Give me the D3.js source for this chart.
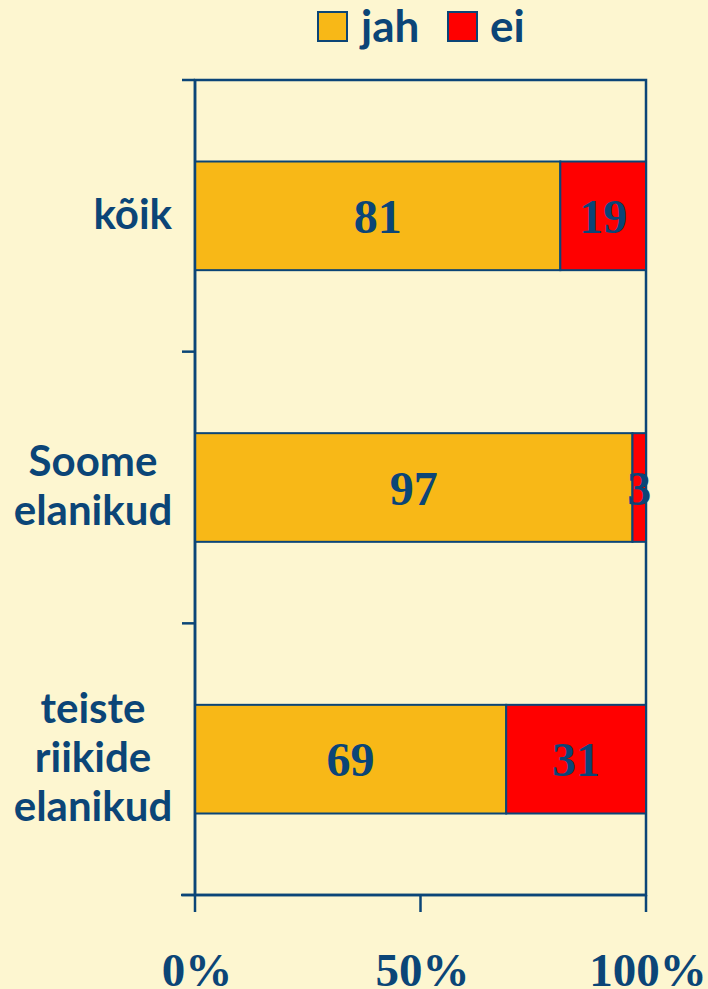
<html>
<meta http-equiv="content-type" content="text/html; charset=UTF8">
<style>
  body {margin:0; background:#fdf6d0;}
  svg {display:block;}
</style>
<body>
<svg id="svg1" width="708" height="989"></svg>
<script src="https://cdn.jsdelivr.net/npm/d3@7"></script>
<script>
var categories=["kõik","Soome elanikud","teiste riikide elanikud"];
var catLines=[["kõik"],["Soome","elanikud"],["teiste","riikide","elanikud"]];
var jah=[81,97,69];
var ei=[19,3,31];
var seriesNames=["jah","ei"];
var seriesColors=["#f8b817","#ff0000"];
var xTicks=[0,50,100];

var blue="#0b4577";
var svg=d3.select("#svg1");

var x=d3.scaleLinear().domain([0,100]).range([195,646]);
var y=d3.scaleBand().domain(categories).range([80,895]).paddingInner(0.6).paddingOuter(0.3);

var rows=categories.map(function(c,i){return {cat:c,jah:jah[i],ei:ei[i]}});
var stack=d3.stack().keys(seriesNames)(rows);

// plot frame
svg.append("rect").attr("x",x(0)).attr("y",80).attr("width",x(100)-x(0)).attr("height",815)
  .attr("fill","none").attr("stroke",blue).attr("stroke-width",2.5);

var layer=svg.selectAll("g.layer").data(stack).enter().append("g")
  .attr("class","layer")
  .attr("fill",function(d,i){return seriesColors[i]});

layer.selectAll("rect").data(function(d){return d}).enter().append("rect")
  .attr("x",function(d){return x(d[0])})
  .attr("y",function(d){return y(d.data.cat)})
  .attr("width",function(d){return x(d[1])-x(d[0])})
  .attr("height",y.bandwidth())
  .attr("stroke",blue)
  .attr("stroke-width",2);

layer.selectAll("text").data(function(d){return d}).enter().append("text")
  .attr("x",function(d){return (x(d[0])+x(d[1]))/2})
  .attr("y",function(d){return y(d.data.cat)+y.bandwidth()/2+17})
  .attr("text-anchor","middle")
  .attr("fill",blue)
  .style("font-family","'Liberation Serif',serif")
  .style("font-weight","bold")
  .style("font-size","48px")
  .text(function(d){return d[1]-d[0]});

// y axis
var yAxisG=svg.append("g");
yAxisG.append("line").attr("x1",195).attr("x2",195).attr("y1",80).attr("y2",895)
  .attr("stroke",blue).attr("stroke-width",2.5);
var yTicks=[80].concat(categories.map(function(c){return y(c)+y.bandwidth()+(y.step()-y.bandwidth())/2}));
yAxisG.selectAll("line.tick").data(yTicks).enter().append("line")
  .attr("class","tick")
  .attr("x1",182).attr("x2",195)
  .attr("y1",function(d){return d}).attr("y2",function(d){return d})
  .attr("stroke",blue).attr("stroke-width",2.5);

// x axis
var xAxisG=svg.append("g").attr("transform","translate(0,895)");
xAxisG.append("line").attr("x1",181).attr("x2",646).attr("stroke",blue).attr("stroke-width",2.5);
xAxisG.selectAll("line.tick").data(xTicks).enter().append("line")
  .attr("class","tick")
  .attr("x1",function(d){return x(d)}).attr("x2",function(d){return x(d)})
  .attr("y1",0).attr("y2",17)
  .attr("stroke",blue).attr("stroke-width",2.5);
xAxisG.selectAll("text").data(xTicks).enter().append("text")
  .attr("x",function(d){return x(d)+2}).attr("y",91)
  .attr("text-anchor","middle")
  .attr("fill",blue)
  .style("font-family","'Liberation Serif',serif")
  .style("font-weight","bold")
  .style("font-size","47px")
  .text(function(d){return d+"%"});

// category labels
var labG=svg.append("g");
categories.forEach(function(c,i){
  var lines=catLines[i];
  var cy=y(c)+y.bandwidth()/2;
  var lh=49;
  var t=labG.append("text")
    .attr("fill",blue)
    .attr("text-anchor",lines.length==1?"end":"middle")
    .style("font-family","Lato,'Open Sans',sans-serif")
    .style("font-weight","bold")
    .style("font-size","42px");
  lines.forEach(function(l,j){
    t.append("tspan")
      .attr("x",lines.length==1?172:93)
      .attr("y",cy+13+(j-(lines.length-1)/2)*lh)
      .text(l);
  });
});

// legend
var leg=svg.append("g");
var legX=[318,448];
var legTextX=[361,490];
seriesNames.forEach(function(s,i){
  leg.append("rect").attr("x",legX[i]).attr("y",12).attr("width",29).attr("height",29)
    .attr("fill",seriesColors[i]).attr("stroke",blue).attr("stroke-width",2);
  leg.append("text").attr("x",legTextX[i]).attr("y",42)
    .attr("fill",blue)
    .style("font-family","Lato,'Open Sans',sans-serif")
    .style("font-weight","bold")
    .style("font-size","44px")
    .text(s);
});
</script>
</body>
</html>
